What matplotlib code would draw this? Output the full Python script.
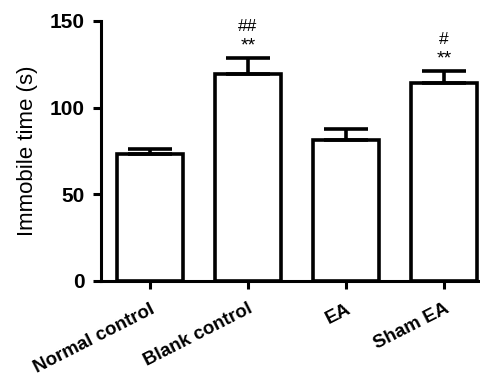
import matplotlib
matplotlib.use('Agg')
import matplotlib.pyplot as plt
import numpy as np

plt.rcParams['font.family'] = ['Liberation Sans', 'DejaVu Sans']

# 各组数据
groups = ['Normal control', 'Blank control', 'EA', 'Sham EA']
means = [73.3, 119.4, 81.4, 114.4]
sem = [2.9, 9.1, 6.1, 6.8]
stars = ['', '**', '', '**']
hashes = ['', '##', '', '#']
yticks = [0, 50, 100, 150]

fig = plt.figure(figsize=(4.81, 3.80), dpi=100)
ax = fig.add_axes([101 / 481, 1 - 281 / 380, 1 - 101 / 481, 260 / 380])

x = np.arange(len(groups))
ax.bar(x, means, width=0.67, color='white', edgecolor='black', linewidth=2.6, zorder=2)
ax.errorbar(x, means, yerr=[np.zeros(len(sem)), sem], fmt='none', ecolor='black',
            elinewidth=2.6, capsize=16, capthick=2.6, zorder=3)

# 显著性标记
for xi, m, s, st, hs in zip(x, means, sem, stars, hashes):
    if st:
        ax.text(xi, m + s + 2.0, st, ha='center', va='bottom', fontsize=14)
        ax.text(xi, m + s + 14.0, hs, ha='center', va='bottom', fontsize=12.5)

ax.set_xlim(-0.5, 3.38)
ax.set_ylim(0, 150)
ax.set_yticks(yticks)
ax.set_yticklabels([str(v) for v in yticks], fontsize=15, fontweight='bold')
ax.set_xticks(x)
ax.set_xticklabels(groups, rotation=27, ha='right', rotation_mode='anchor',
                   fontsize=13.5, fontweight='bold')
ax.set_ylabel('Immobile time (s)', fontsize=16, labelpad=8)

for side in ['top', 'right']:
    ax.spines[side].set_visible(False)
for side in ['left', 'bottom']:
    ax.spines[side].set_linewidth(2.2)
ax.tick_params(axis='both', width=2.2, length=6, direction='out')
ax.tick_params(axis='y', pad=6)
ax.tick_params(axis='x', pad=8)

fig.savefig('out.png', dpi=100)
